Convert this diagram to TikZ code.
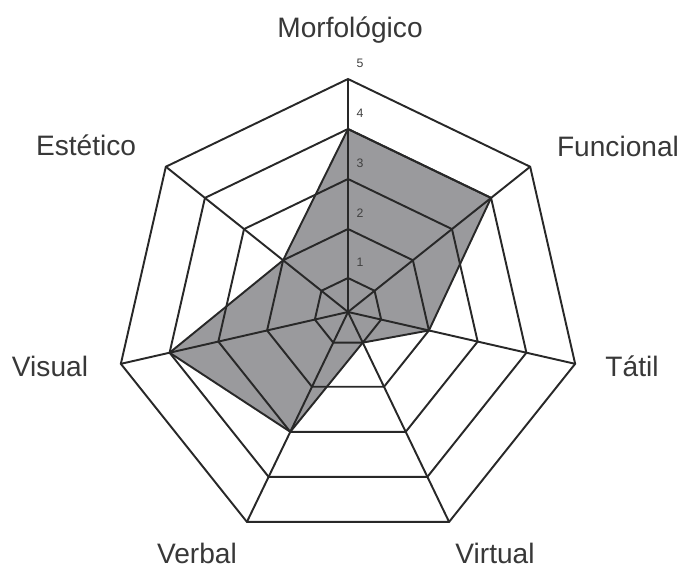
\documentclass[tikz,border=0pt]{standalone}
\usepackage{fontspec}
\setmainfont{Liberation Sans}
\definecolor{areagray}{RGB}{154,154,157}
\definecolor{inkgray}{RGB}{40,40,40}
\begin{document}
\begin{tikzpicture}[x=0.02cm,y=0.02cm,
  gridline/.style={draw=inkgray,line width=1.1pt,line join=miter},
  areapoly/.style={fill=areagray,draw=inkgray,line width=1.1pt},
  axislabel/.style={anchor=base,inner sep=0pt,text=black!78,font=\fontsize{16}{19}\selectfont},
  ticklabel/.style={inner sep=0pt,text=black!75,font=\fontsize{7}{8}\selectfont}]
\useasboundingbox (0,0) rectangle (686,570);
\begin{scope}[shift={(348,258)}]
% values: 4,4,2,1,3,4,2
\draw[areapoly] (90:183) -- (38.571:183) -- (-12.857:83) -- (-64.286:34)
  -- (-115.714:133) -- (-167.143:183) -- (141.429:83) -- cycle;
% rings
\foreach \r in {34,83,133,183,233}
  \draw[gridline] (90:\r) \foreach \k in {1,...,6} { -- ({90-\k*360/7}:\r) } -- cycle;
% spokes
\foreach \k in {0,...,6}
  \draw[gridline] (0,0) -- ({90-\k*360/7}:233);
% scale
\foreach \r/\n in {34/1,83/2,133/3,183/4,233/5}
  \node[ticklabel] (t\n) at (12,\r+16) {\n};
\end{scope}
\node[axislabel] (morf) at (350,532) {Morfológico};
\node[axislabel] (func) at (618,413) {Funcional};
\node[axislabel] (tatil) at (632,193) {Tátil};
\node[axislabel] (virt) at (495,6) {Virtual};
\node[axislabel] (verb) at (197,6) {Verbal};
\node[axislabel] (visu) at (50,193) {Visual};
\node[axislabel] (este) at (86,414) {Estético};
\end{tikzpicture}
\end{document}
